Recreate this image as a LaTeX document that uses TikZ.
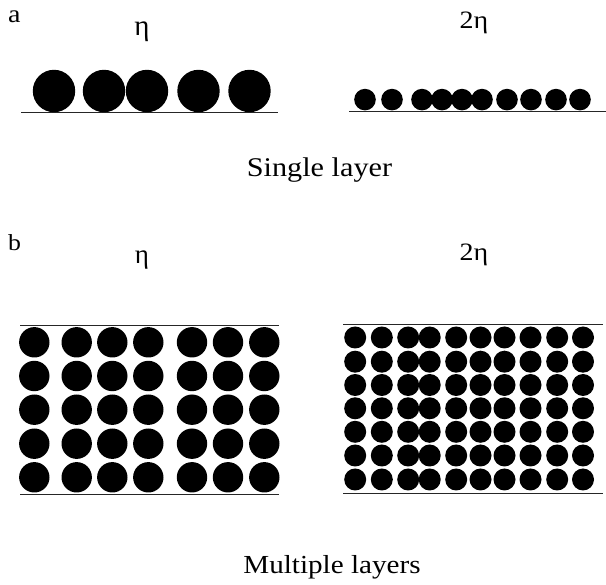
\documentclass[tikz,border=0pt]{standalone}
\usepackage{fontspec}
\setmainfont{Liberation Serif}
\tikzset{
  ball/.style={fill=black},
  surface/.style={draw=black!85, line width=0.8pt},
  caption/.style={inner sep=0pt, anchor=base},
  panel/.style={inner sep=0pt, anchor=base west},
}
\newcommand{\wide}[1]{\scalebox{1.12}[1]{#1}}
\begin{document}
\begin{tikzpicture}[x=1pt, y=-1pt]
\useasboundingbox (0,0) rectangle (606,585);

% ---- panel a: single layer ----
\node[panel] (la) at (8,23) {\fontsize{25}{28}\selectfont\wide{a}};
\node[caption] (eta1) at (142,36) {\fontsize{29}{32}\selectfont η};
\node[caption] (eta2) at (474,29) {\fontsize{25}{28}\selectfont\wide{2η}};

\draw[surface] (21,112) -- (278,112);
\foreach \x in {54,104,147,198.5,249.5}
  \fill[ball] (\x,91) circle (21.2);

\draw[surface] (349,111) -- (606,111);
\foreach \x in {365,392,422,442,462,482,507,531,556,580}
  \fill[ball] (\x,99.6) circle (10.8);

\node[caption] (single) at (319.5,177) {\fontsize{27}{32}\selectfont\wide{Single layer}};

% ---- panel b: multiple layers ----
\node[panel] (lb) at (8,251) {\fontsize{23}{26}\selectfont\wide{b}};
\node[caption] (eta3) at (142,264) {\fontsize{27}{30}\selectfont η};
\node[caption] (eta4) at (474,261) {\fontsize{25}{28}\selectfont\wide{2η}};

\draw[surface] (20,325) -- (279,325);
\draw[surface] (20,494) -- (279,494);
\foreach \x in {34.3,76.7,112.3,148.3,192,228,264.3}
  \foreach \y in {342.3,376,409.7,443.7,477.3}
    \fill[ball] (\x,\y) circle (15.2);

\draw[surface] (343,324) -- (603,324);
\draw[surface] (343,493) -- (603,493);
\foreach \x in {355.2,381.8,408.2,429.7,456.2,480.5,504.5,530.5,557.2,583}
  \foreach \y in {337.5,361.7,385,408.3,431.8,455.5,479.5}
    \fill[ball] (\x,\y) circle (11);

\node[caption] (multi) at (332,574) {\fontsize{26}{31}\selectfont\wide{Multiple layers}};
\end{tikzpicture}
\end{document}
